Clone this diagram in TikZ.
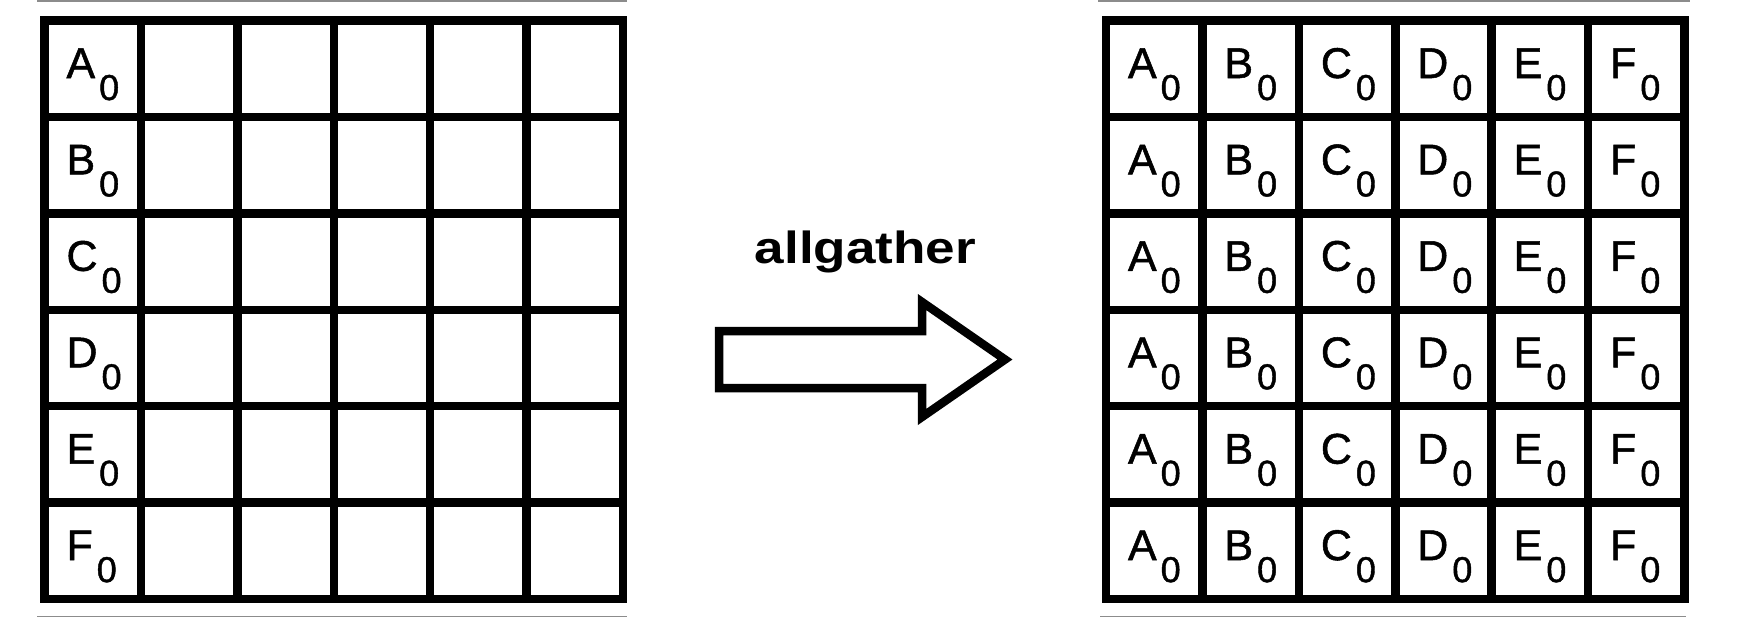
\documentclass[tikz,border=0pt]{standalone}
\usepackage{fontspec}
\setmainfont{Liberation Sans}
\newfontfamily\heavyfont[FakeBold=1.2]{Liberation Sans}
\newcommand{\celltxt}[1]{\heavyfont{\fontsize{43}{43}\selectfont #1}\kern4pt\raisebox{-22pt}{\fontsize{36}{36}\selectfont 0}}
\tikzset{
  gridline/.style={line width=8.5pt, black},
  rim/.style={line width=1.5pt, black!45},
  celllabel/.style={anchor=base west, inner sep=0pt, outer sep=0pt},
  bigarrow/.style={line width=8.5pt, black, line join=miter, fill=white},
}
\begin{document}
\begin{tikzpicture}[x=1pt,y=-1pt]
\useasboundingbox (0,0) rectangle (1738,619);
% faint rim lines at top and bottom
\draw[rim] (37,0.8) -- (627,0.8);
\draw[rim] (1098,0.8) -- (1690,0.8);
\draw[rim] (37,616.5) -- (627,616.5);
\draw[rim] (1100,616.5) -- (1686,616.5);
% grids
\foreach \gx in {44.5,1106}{
  \foreach \i in {1,...,5}{
    \draw[gridline] ({\gx+\i*96.42},20.5) -- ({\gx+\i*96.42},599);
    \draw[gridline] (\gx,{20.5+\i*96.42}) -- ({\gx+578.5},{20.5+\i*96.42});
  }
  \draw[gridline] (\gx,20.5) rectangle ({\gx+578.5},599);
}
% left labels
\foreach \t [count=\r from 0] in {A,B,C,D,E,F}{
  \node[celllabel] (L\r) at (66.5,{78+\r*96.42}) {\celltxt{\t}};
}
% right labels
\foreach \r in {0,...,5}{
  \foreach \t [count=\c from 0] in {A,B,C,D,E,F}{
    \node[celllabel] (R\r\c) at ({1128+\c*96.42},{78+\r*96.42}) {\celltxt{\t}};
  }
}
% arrow
\draw[bigarrow] (719,331) -- (922,331) -- (922,302) -- (1005,359.5) -- (922,417) -- (922,388) -- (719,388) -- cycle;
\node[anchor=base, inner sep=0pt, xscale=1.18] (lbl) at (865.5,263) {\fontsize{45}{45}\selectfont\bfseries allgather};
\end{tikzpicture}
\end{document}
